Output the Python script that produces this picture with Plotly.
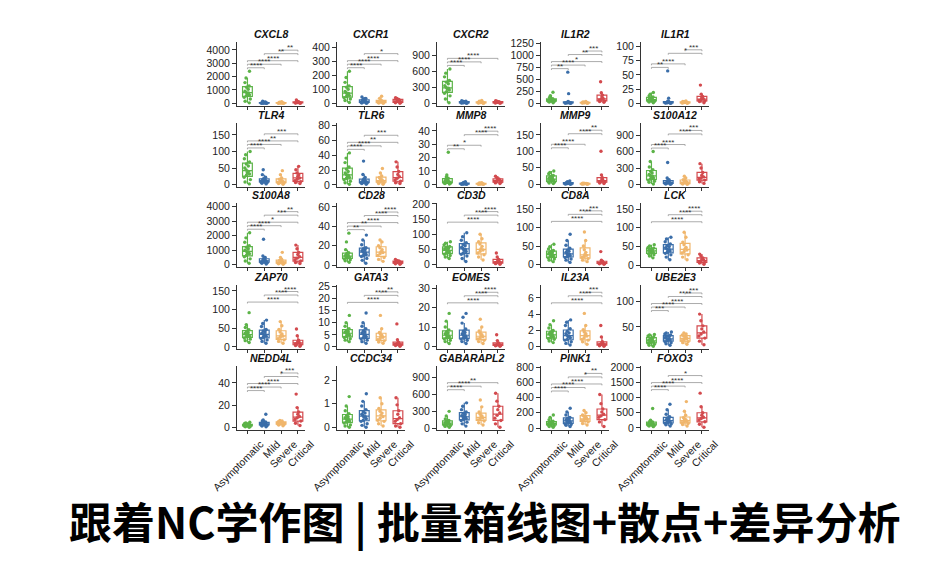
import plotly.graph_objects as go

GROUPS = ["Asymptomatic", "Mild", "Severe", "Critical"]
COLORS = ["#5cb348", "#3b6ea9", "#f0b66c", "#d34a4e"]
GENES = ["CXCL8", "CXCR1", "CXCR2", "IL1R2", "IL1R1",
         "TLR4", "TLR6", "MMP8", "MMP9", "S100A12",
         "S100A8", "CD28", "CD3D", "CD8A", "LCK",
         "ZAP70", "GATA3", "EOMES", "IL23A", "UBE2E3",
         "NEDD4L", "CCDC34", "GABARAPL2", "PINK1", "FOXO3"]
PAIRS = [(0, 1), (0, 2), (0, 3), (1, 2), (1, 3), (2, 3)]
TITLE = "跟着NC学作图 | 批量箱线图+散点+差异分析"

# ---- expression values per gene: [Asymptomatic, Mild, Severe, Critical] ----
CXCL8 = [[30, 150, 320, 450, 560, 620, 700, 780, 820, 900, 1050, 1200, 1300, 1550, 1900, 2400],
         [0, 5, 10, 12, 15, 20, 25, 30, 35, 45, 55, 70, 90, 150],
         [0, 5, 8, 12, 18, 25, 30, 40, 55, 80, 110],
         [0, 10, 20, 30, 45, 60, 80, 110, 160, 250]]
CXCR1 = [[5, 20, 30, 40, 48, 55, 62, 70, 75, 85, 100, 115, 125, 150, 185, 230],
         [0, 2, 4, 6, 8, 10, 12, 15, 18, 20, 25, 30, 35, 45],
         [0, 2, 4, 6, 8, 10, 14, 18, 22, 35, 50],
         [0, 3, 6, 10, 14, 18, 22, 28, 35, 40]]
CXCR2 = [[10, 80, 140, 190, 220, 250, 270, 285, 300, 330, 370, 400, 430, 500, 570, 650],
         [0, 3, 5, 8, 10, 12, 15, 18, 22, 25, 30, 35, 40, 50],
         [0, 3, 6, 9, 12, 15, 20, 25, 30, 40, 55],
         [0, 4, 8, 12, 16, 20, 25, 30, 38, 48]]
IL1R2 = [[10, 25, 35, 42, 48, 52, 56, 60, 64, 70, 78, 88, 95, 120, 160, 230],
         [0, 2, 4, 6, 8, 10, 12, 15, 18, 22, 28, 35, 200, 650],
         [0, 3, 5, 8, 10, 12, 15, 18, 22, 28, 35],
         [20, 35, 50, 65, 80, 100, 130, 170, 220, 450]]
IL1R1 = [[1, 2, 3, 4, 4.5, 5, 5.5, 6, 6.5, 7, 8, 9.5, 11, 13, 16, 19],
         [0, 0.3, 0.5, 0.8, 1, 1.2, 1.5, 1.8, 2.2, 2.6, 3, 4, 9, 57],
         [0, 0.3, 0.6, 0.9, 1.2, 1.5, 1.8, 2.2, 2.6, 3, 4],
         [1, 3, 4, 5, 6.5, 8, 10, 12, 16, 32]]
TLR4 = [[2, 8, 15, 22, 28, 32, 36, 40, 44, 50, 56, 62, 68, 78, 90, 100],
        [2, 4, 6, 8, 9, 10, 11, 12, 13, 14, 16, 18, 22, 30, 45],
        [1, 3, 5, 6, 7, 9, 10, 12, 14, 16, 20, 30, 42],
        [3, 6, 9, 12, 16, 20, 25, 30, 35, 45, 55]]
TLR6 = [[1, 3, 5, 7, 9, 10, 12, 13, 14, 16, 18, 21, 24, 30, 36, 43],
        [1, 2, 2.5, 3, 3.5, 4, 4.5, 5, 5.5, 6, 7, 8, 10, 14, 32],
        [1, 2, 3, 4, 5, 5.5, 6, 7, 8, 10, 12, 16, 22],
        [2, 3, 5, 7, 9, 11, 14, 18, 24, 31]]
MMP8 = [[0.2, 0.5, 0.8, 1, 1.3, 1.6, 1.9, 2.1, 2.4, 2.8, 3.2, 3.8, 4.5, 5.5, 7, 24],
        [0, 0.05, 0.1, 0.15, 0.2, 0.3, 0.4, 0.5, 0.6, 0.8, 1, 1.3, 2],
        [0, 0.05, 0.1, 0.15, 0.2, 0.3, 0.4, 0.5, 0.7, 0.9, 1.1],
        [0.5, 1, 1.5, 2, 2.5, 3, 3.5, 4, 5, 6]]
MMP9 = [[2, 4, 6, 8, 10, 12, 14, 15, 16, 18, 21, 24, 27, 32, 36, 40],
        [0, 0.5, 1, 1.5, 2, 2.5, 3, 3.5, 4, 5, 6, 8, 10],
        [0, 0.3, 0.6, 1, 1.3, 1.6, 2, 2.4, 2.8, 3.5],
        [2, 4, 6, 8, 10, 12, 16, 20, 28, 100]]
S100A12 = [[10, 40, 60, 80, 100, 120, 135, 150, 165, 185, 210, 240, 270, 320, 420, 600],
           [5, 10, 15, 20, 25, 30, 35, 40, 45, 55, 65, 75, 90, 120, 400],
           [5, 10, 15, 20, 30, 40, 50, 60, 75, 90, 120, 150],
           [20, 50, 80, 100, 120, 140, 170, 220, 300, 380]]
S100A8 = [[100, 250, 400, 550, 650, 750, 820, 880, 940, 1000, 1100, 1200, 1300, 1550, 1850, 2200],
          [50, 100, 130, 160, 190, 220, 250, 270, 300, 330, 370, 420, 500, 600, 1750],
          [30, 60, 90, 110, 140, 170, 200, 230, 260, 300, 380, 500, 850],
          [80, 150, 250, 350, 450, 550, 700, 850, 1100, 1350]]
CD28 = [[3, 4.5, 5.5, 6.5, 7.5, 8, 8.5, 9, 9.5, 10, 11, 12, 13, 16, 24, 33],
        [2, 5, 7, 9, 10, 11, 12, 13, 14, 15, 16, 17, 18, 21, 26, 31],
        [4, 6, 8, 10, 12, 13, 14, 16, 18, 20, 24, 26],
        [1, 1.5, 2, 2.5, 3, 3.3, 3.8, 4.3, 5, 6]]
CD3D = [[20, 25, 30, 34, 38, 41, 44, 46, 48, 51, 54, 57, 60, 65, 70, 75],
        [10, 20, 28, 34, 38, 43, 47, 50, 53, 57, 62, 66, 72, 80, 92, 105],
        [15, 25, 32, 38, 44, 48, 52, 60, 68, 75, 85, 100],
        [1, 3, 5, 6, 8, 10, 13, 17, 25, 38]]
CD8A = [[8, 12, 15, 18, 21, 23, 25, 26, 28, 30, 32, 35, 38, 42, 48, 55],
        [6, 12, 15, 19, 22, 24, 26, 28, 30, 33, 36, 39, 44, 52, 65, 82],
        [8, 12, 16, 19, 22, 25, 28, 33, 40, 50, 65, 88],
        [1, 2, 3, 4, 5, 6, 7, 9, 12, 35]]
LCK = [[20, 25, 28, 31, 33, 35, 36, 38, 39, 40, 42, 44, 46, 48, 52, 55],
       [15, 22, 28, 32, 35, 38, 40, 42, 44, 47, 50, 53, 57, 63, 70, 75],
       [15, 22, 28, 33, 37, 41, 44, 48, 55, 62, 75, 88],
       [3, 6, 8, 10, 12, 14, 17, 20, 25, 30]]
ZAP70 = [[12, 17, 21, 24, 27, 29, 31, 32, 34, 36, 39, 42, 46, 52, 60, 92],
         [10, 15, 19, 23, 26, 29, 31, 33, 35, 37, 40, 43, 47, 55, 63, 72],
         [10, 15, 19, 22, 26, 29, 31, 35, 40, 47, 57, 68],
         [2, 4, 6, 8, 10, 12, 15, 18, 30, 48]]
GATA3 = [[2.2, 2.8, 3.4, 3.9, 4.4, 4.8, 5.2, 5.5, 5.8, 6.1, 6.4, 6.8, 7.5, 8.5, 10, 13],
         [1.5, 2.2, 2.8, 3.3, 3.8, 4.2, 4.6, 5, 5.4, 5.8, 6.2, 6.6, 7.5, 8.5, 10, 14],
         [1.5, 2, 2.5, 3, 3.5, 4, 4.4, 4.8, 5.3, 6, 7.5, 13],
         [0.3, 0.6, 0.8, 1, 1.2, 1.4, 1.7, 2, 3, 9.5]]
EOMES = [[1.5, 2.5, 3.2, 3.8, 4.4, 4.8, 5.2, 5.5, 6, 6.5, 7, 7.6, 8.5, 10, 13, 17],
         [1.5, 2.5, 3.2, 3.8, 4.3, 4.8, 5.2, 5.5, 6, 6.5, 7.2, 7.8, 9, 12, 15, 17],
         [1.5, 2.5, 3.2, 3.8, 4.4, 5, 5.5, 6, 6.8, 8, 10, 14],
         [0.1, 0.3, 0.5, 0.7, 0.9, 1.1, 1.4, 1.8, 3, 6]]
IL23A = [[0.5, 0.7, 0.9, 1.0, 1.1, 1.2, 1.3, 1.4, 1.5, 1.6, 1.7, 1.8, 2.0, 2.3, 2.7, 3.2],
         [0.2, 0.4, 0.6, 0.8, 0.9, 1.1, 1.2, 1.3, 1.4, 1.6, 1.7, 1.9, 2.2, 2.6, 3.0, 3.3],
         [0.3, 0.6, 0.8, 0.9, 1.1, 1.3, 1.4, 1.6, 1.8, 2.1, 2.6, 4.1],
         [0.05, 0.1, 0.2, 0.25, 0.3, 0.4, 0.5, 0.6, 1.2, 2.6]]
UBE2E3 = [[12, 14, 16, 18, 19, 20, 21, 22, 23, 24, 26, 28, 30, 32, 34, 35],
          [14, 17, 19, 21, 23, 24, 25, 26, 27, 29, 31, 32, 34, 36, 38, 40],
          [16, 19, 21, 23, 25, 27, 28, 30, 32, 34, 36, 38],
          [15, 22, 28, 32, 36, 40, 46, 52, 62, 75]]
NEDD4L = [[0.5, 1, 1.2, 1.5, 1.7, 1.9, 2.1, 2.2, 2.4, 2.6, 2.8, 3, 3.3, 3.8, 4.4, 5],
          [1, 1.5, 2, 2.4, 2.7, 3, 3.2, 3.4, 3.7, 4, 4.3, 4.6, 5.2, 6, 7, 12],
          [1.8, 2.4, 3, 3.3, 3.6, 4, 4.3, 4.6, 5, 5.5, 6, 6.5],
          [2, 4, 6, 7.5, 9, 10, 12, 14, 18, 30]]
CCDC34 = [[0, 0.05, 0.1, 0.18, 0.22, 0.26, 0.3, 0.33, 0.36, 0.4, 0.45, 0.5, 0.58, 0.7, 0.9, 1.3],
          [0, 0.08, 0.15, 0.25, 0.3, 0.36, 0.42, 0.45, 0.5, 0.55, 0.6, 0.66, 0.75, 0.9, 1.1, 1.42],
          [0.05, 0.15, 0.25, 0.3, 0.38, 0.45, 0.52, 0.6, 0.68, 0.8, 1.0, 1.25],
          [0, 0.05, 0.15, 0.25, 0.33, 0.4, 0.55, 0.7, 0.95, 1.25]]
GABARAPL2 = [[20, 35, 45, 58, 66, 74, 82, 88, 94, 102, 112, 125, 140, 165, 220, 300],
             [40, 80, 110, 140, 160, 175, 190, 200, 210, 225, 245, 265, 290, 330, 390, 450],
             [60, 100, 130, 150, 170, 185, 200, 220, 250, 290, 380, 500],
             [20, 80, 140, 180, 230, 270, 330, 390, 480, 620]]
PINK1 = [[10, 20, 30, 38, 45, 50, 55, 60, 64, 68, 74, 80, 88, 110, 140, 170],
         [20, 35, 45, 55, 65, 75, 85, 90, 95, 105, 115, 125, 140, 170, 210, 260],
         [40, 60, 80, 95, 105, 115, 125, 140, 155, 170, 200, 230],
         [20, 80, 110, 140, 160, 180, 210, 250, 320, 440]]
FOXO3 = [[40, 60, 75, 90, 100, 110, 120, 130, 140, 150, 165, 180, 195, 220, 250, 640],
         [60, 100, 130, 150, 170, 190, 210, 230, 250, 270, 300, 330, 370, 450, 600, 780],
         [60, 110, 140, 170, 200, 220, 240, 270, 300, 340, 420, 550, 870],
         [20, 120, 200, 260, 310, 350, 420, 500, 700, 1150]]

VALUES = [CXCL8, CXCR1, CXCR2, IL1R2, IL1R1, TLR4, TLR6, MMP8, MMP9, S100A12,
          S100A8, CD28, CD3D, CD8A, LCK, ZAP70, GATA3, EOMES, IL23A, UBE2E3,
          NEDD4L, CCDC34, GABARAPL2, PINK1, FOXO3]

# y-axis ticks and upper limit per gene
YTICKS = [[0, 1000, 2000, 3000, 4000], [0, 100, 200, 300, 400], [0, 300, 600, 900],
          [0, 250, 500, 750, 1000, 1250], [0, 25, 50, 75, 100],
          [0, 50, 100, 150], [0, 20, 40, 60, 80], [0, 10, 20, 30, 40], [0, 50, 100, 150], [0, 300, 600, 900],
          [0, 1000, 2000, 3000, 4000], [0, 20, 40, 60], [0, 50, 100, 150, 200], [0, 50, 100, 150], [0, 50, 100, 150],
          [0, 50, 100, 150], [0, 5, 10, 15, 20, 25], [0, 10, 20, 30], [0, 2, 4, 6], [50, 100],
          [0, 20, 40], [0, 1, 2], [0, 300, 600, 900], [0, 200, 400, 600, 800], [0, 500, 1000, 1500, 2000]]
YTOP = [4600, 440, 1160, 1280, 108,
        186, 83, 46, 186, 1120,
        4250, 64, 203, 166, 166,
        166, 25.5, 31.6, 7.6, 132,
        55, 2.6, 1100, 815, 2050]

# significance labels for PAIRS (A-M, A-S, A-C, M-S, M-C, S-C); '' = not shown
SIG = [["****", "****", "****", "", "**", "**"],
       ["****", "****", "****", "", "*", ""],
       ["****", "****", "****", "", "", ""],
       ["**", "****", "*", "", "**", "***"],
       ["**", "****", "", "", "*", "***"],
       ["****", "****", "**", "", "***", ""],
       ["****", "****", "**", "", "***", ""],
       ["**", "*", "", "", "****", "****"],
       ["****", "****", "", "", "****", "**"],
       ["****", "****", "", "", "****", "***"],
       ["****", "****", "*", "", "***", "**"],
       ["**", "**", "****", "", "****", "****"],
       ["", "", "****", "", "****", "****"],
       ["", "", "****", "", "****", "***"],
       ["", "", "****", "", "****", "****"],
       ["", "", "****", "", "****", "****"],
       ["", "", "****", "", "****", "**"],
       ["", "", "****", "", "****", "****"],
       ["", "", "****", "", "****", "***"],
       ["***", "****", "****", "", "****", "***"],
       ["****", "****", "****", "", "*", "***"],
       ["", "", "", "", "", ""],
       ["****", "****", "**", "", "", ""],
       ["****", "****", "****", "", "*", "**"],
       ["****", "****", "****", "", "*", ""]]

# ---- layout (pixels) ----
W, H = 933, 580
COL_X = [237, 337, 437, 541, 641]
PANEL_W = 68
ROW_TOP = [42, 123, 203, 285, 366]
PANEL_H = 64
FONT = "Liberation Sans, Arial, Helvetica, sans-serif"

fig = go.Figure()
layout = {}
annotations = []


def fmt(v):
    return str(int(v)) if float(v).is_integer() else str(v)


for k, gene in enumerate(GENES):
    r, c = divmod(k, 5)
    n = k + 1
    xa = "x" if n == 1 else f"x{n}"
    ya = "y" if n == 1 else f"y{n}"
    data = VALUES[k]
    for g in range(4):
        vals = data[g]
        fig.add_trace(go.Box(
            x=[g] * len(vals), y=vals, xaxis=xa, yaxis=ya,
            boxpoints="all", jitter=0.8, pointpos=0, width=0.58,
            line=dict(color=COLORS[g], width=1.2),
            fillcolor="rgba(255,255,255,0.55)",
            marker=dict(color=COLORS[g], size=3.4, line=dict(width=0)),
            whiskerwidth=0, showlegend=False, hoverinfo="skip"))
    dmin = min(min(v) for v in data)
    dmax = max(max(v) for v in data)
    top = YTOP[k]
    bottom = dmin - 0.045 * (top - dmin)
    span = top - bottom
    bx, by = [], []
    for lvl, (i, j) in enumerate(PAIRS):
        lab = SIG[k][lvl]
        if not lab:
            continue
        yb = dmax + span * (0.055 + 0.055 * lvl)
        d = span * 0.022
        bx += [i, i, j, j, None]
        by += [yb - d, yb, yb, yb - d, None]
        annotations.append(dict(x=(i + j) / 2, y=yb, xref=xa, yref=ya, text=lab,
                                showarrow=False, yanchor="bottom", yshift=-4,
                                font=dict(size=8, color="#333", family=FONT)))
    if bx:
        fig.add_trace(go.Scatter(x=bx, y=by, mode="lines", xaxis=xa, yaxis=ya,
                                 line=dict(color="#888", width=0.7),
                                 showlegend=False, hoverinfo="skip"))
    x0 = COL_X[c] / W
    x1 = (COL_X[c] + PANEL_W) / W
    y1 = 1 - ROW_TOP[r] / H
    y0 = 1 - (ROW_TOP[r] + PANEL_H) / H
    xkey = "xaxis" if n == 1 else f"xaxis{n}"
    ykey = "yaxis" if n == 1 else f"yaxis{n}"
    layout[xkey] = dict(domain=[x0, x1], anchor=ya, range=[-0.62, 3.42],
                        tickvals=[0, 1, 2, 3], ticktext=GROUPS,
                        showticklabels=(r == 4), tickangle=-45, automargin=False,
                        ticklabelshift=13,
                        ticks="outside", ticklen=3, tickwidth=1, tickcolor="#333",
                        showline=True, linecolor="#333", linewidth=1,
                        showgrid=False, zeroline=False,
                        tickfont=dict(size=10.5, color="#222", family=FONT))
    layout[ykey] = dict(domain=[y0, y1], anchor=xa, range=[bottom, top],
                        tickvals=YTICKS[k], ticktext=[fmt(v) for v in YTICKS[k]],
                        ticks="outside", ticklen=4, tickwidth=1, tickcolor="#333",
                        showline=True, linecolor="#333", linewidth=1, automargin=False,
                        showgrid=False, zeroline=False,
                        tickfont=dict(size=10.5, color="#222", family=FONT))
    annotations.append(dict(x=(x0 + x1) / 2, y=1 - (ROW_TOP[r] - 8) / H,
                            xref="paper", yref="paper", text=gene, showarrow=False,
                            xanchor="center", yanchor="middle",
                            font=dict(size=10.5, color="#111", family=FONT,
                                      weight="bold", style="italic")))

annotations.append(dict(x=484 / W, y=1 - 520 / H, xref="paper", yref="paper",
                        text=TITLE, showarrow=False, xanchor="center", yanchor="middle",
                        font=dict(size=43, color="#000", family="Noto Sans CJK SC",
                                  weight="bold")))

fig.update_layout(width=W, height=H,
                  margin=dict(l=0, r=0, t=0, b=0, pad=0, autoexpand=False),
                  paper_bgcolor="white", plot_bgcolor="white",
                  boxmode="overlay", annotations=annotations, **layout)

fig.write_html("out.html", config={"displayModeBar": False},
               post_script="document.body.style.margin='0px';")
